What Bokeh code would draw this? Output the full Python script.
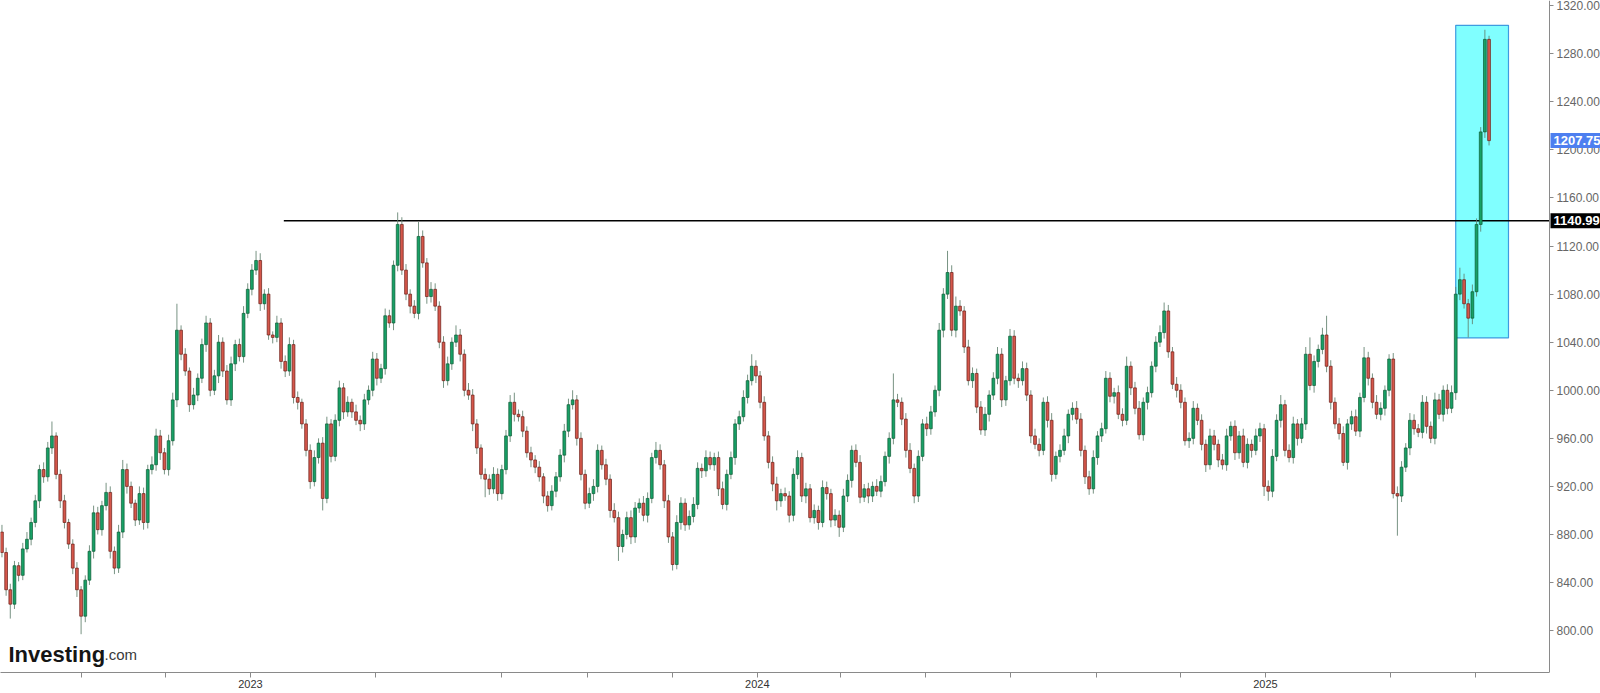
import pandas as pd
from bokeh.plotting import figure
from bokeh.models import Range1d, FixedTicker, NumeralTickFormatter, Label, ColumnDataSource
from bokeh.embed import file_html
from bokeh.resources import INLINE

FONT = "Liberation Sans"

# ---------------- data ----------------
first_candle = "2022-07-06"
step_days = 3
first_open = 882.0

closes = [
    865, 834, 822, 854, 846, 868, 876, 890, 908, 934,
    928, 952, 962, 930, 908, 890, 872, 852, 834, 812,
    842, 866, 898, 884, 904, 915, 866, 852, 882, 934,
    920, 906, 892, 914, 890, 934, 938, 962, 948, 934,
    958, 992, 1050, 1030, 1016, 988, 996, 1010, 1038, 1056,
    1000, 1012, 1040, 1016, 992, 1022, 1038, 1028, 1064, 1084,
    1100, 1108, 1072, 1080, 1046, 1044, 1056, 1024, 1016, 1038,
    994, 990, 972, 950, 924, 944, 956, 910, 972, 945,
    975, 1002, 982, 990, 982, 975, 972, 992, 1000, 1026,
    1010, 1018, 1062, 1056, 1104, 1138, 1100, 1080, 1070, 1064,
    1128, 1106, 1078, 1084, 1070, 1040, 1008, 1022, 1040, 1046,
    1030, 1000, 996, 972, 952, 930, 926, 918, 930, 914,
    934, 962, 990, 980, 978, 966, 948, 942, 936, 928,
    912, 904, 916, 928, 946, 966, 988, 992, 960, 930,
    906, 914, 920, 950, 938, 926, 900, 894, 870, 880,
    894, 878, 902, 906, 896, 910, 944, 950, 938, 908,
    878, 855, 890, 906, 888, 895, 905, 935, 933, 944,
    938, 944, 918, 905, 930, 944, 972, 978, 994, 1008,
    1020, 1012, 990, 962, 940, 922, 908, 914, 912, 896,
    930, 944, 912, 918, 894, 900, 890, 919, 914, 892,
    896, 886, 912, 925, 950, 940, 911, 918, 912, 920,
    916, 924, 945, 960, 992, 990, 976, 950, 935, 912,
    945, 972, 968, 982, 1000, 1050, 1080, 1098, 1050, 1070,
    1066, 1036, 1008, 1014, 986, 967, 980, 996, 1010, 1030,
    992, 1008, 1045, 1010, 1008, 1018, 996, 962, 955, 950,
    990, 975, 930, 945, 950, 962, 980, 985, 976, 950,
    928, 918, 944, 962, 968, 1010, 995, 998, 980, 975,
    1020, 1002, 985, 963, 990, 998, 1020, 1040, 1048, 1066,
    1032, 1005, 1000, 990, 958, 960, 985, 975, 955, 938,
    962, 955, 942, 938, 962, 970, 948, 962, 940, 955,
    950, 962, 968, 920, 916, 945, 975, 988, 950, 944,
    972, 960, 972, 1030, 1004, 1024, 1034, 1046, 1020, 990,
    972, 964, 940, 972, 978, 966, 994, 1027, 1010, 990,
    980, 985, 1000, 1026, 914, 912, 936, 952, 975, 968,
    965, 990, 970, 960, 992, 980, 1000, 985, 998, 1080,
    1092, 1072, 1060, 1082, 1138, 1215, 1292, 1207.75,
]

wick_hi = [
    6, 4, 5, 4, 3, 5, 6, 4, 5, 4, 6, 5, 12, 3, 4, 5, 3, 4, 5, 3,
    4, 5, 6, 5, 4, 8, 5, 4, 6, 8, 5, 4, 3, 6, 5, 4, 7, 6, 5, 4,
    5, 6, 22, 4, 5, 3, 6, 4, 5, 6, 4, 5, 6, 4, 5, 6, 4, 5, 6, 5,
    5, 8, 6, 4, 5, 3, 6, 4, 5, 6, 4, 5, 3, 4, 5, 6, 4, 5, 6, 4,
    5, 6, 4, 5, 3, 6, 4, 5, 4, 6, 5, 4, 6, 5, 4, 10, 6, 5, 4, 5,
    12, 5, 4, 6, 5, 4, 5, 6, 4, 8, 5, 4, 6, 5, 4, 3, 5, 4, 6, 5,
    4, 5, 6, 8, 4, 5, 4, 5, 4, 5, 3, 4, 5, 4, 5, 6, 5, 8, 4, 5,
    4, 5, 6, 5, 4, 5, 4, 6, 5, 4, 5, 6, 5, 4, 6, 5, 4, 7, 5, 4,
    5, 4, 6, 5, 4, 5, 6, 5, 4, 6, 5, 4, 5, 6, 4, 5, 4, 5, 6, 5,
    10, 5, 4, 5, 4, 5, 6, 4, 5, 4, 5, 6, 4, 5, 4, 5, 4, 6, 5, 4,
    5, 4, 6, 5, 4, 5, 6, 4, 5, 4, 6, 5, 4, 5, 22, 5, 4, 5, 6, 4,
    5, 4, 6, 5, 4, 6, 5, 18, 6, 8, 5, 4, 6, 5, 4, 5, 6, 4, 5, 6,
    5, 4, 6, 5, 4, 6, 5, 4, 6, 5, 4, 5, 6, 4, 5, 6, 4, 5, 6, 5,
    4, 5, 6, 4, 5, 6, 5, 4, 6, 5, 8, 4, 5, 6, 4, 5, 4, 5, 6, 7,
    5, 4, 6, 5, 4, 5, 6, 4, 5, 4, 6, 5, 4, 5, 6, 4, 5, 4, 6, 5,
    4, 6, 5, 4, 5, 6, 5, 8, 4, 5, 6, 4, 5, 6, 14, 5, 4, 6, 16, 5,
    4, 5, 6, 4, 5, 6, 4, 9, 5, 4, 6, 5, 4, 4, 5, 6, 5, 4, 6, 5,
    4, 6, 5, 4, 6, 5, 4, 5, 6, 6, 10, 5, 4, 6, 5, 4, 8, 3,
]

wick_lo = [
    4, 5, 12, 4, 5, 4, 3, 5, 4, 6, 5, 4, 5, 4, 6, 5, 4, 5, 6, 15,
    5, 4, 6, 4, 5, 4, 6, 5, 4, 5, 6, 4, 5, 4, 6, 5, 4, 5, 6, 4,
    5, 4, 6, 5, 4, 6, 4, 5, 4, 6, 5, 4, 6, 5, 4, 5, 6, 4, 5, 4,
    5, 4, 6, 5, 4, 5, 4, 6, 5, 4, 5, 6, 4, 5, 6, 4, 5, 10, 4, 5,
    4, 5, 6, 4, 5, 4, 6, 5, 4, 5, 6, 4, 5, 4, 6, 5, 4, 5, 6, 4,
    5, 4, 6, 5, 4, 5, 6, 4, 5, 4, 6, 5, 4, 6, 5, 4, 15, 5, 4, 6,
    5, 4, 5, 6, 4, 5, 4, 6, 5, 4, 6, 5, 4, 5, 4, 6, 5, 4, 6, 5,
    5, 4, 6, 5, 4, 5, 6, 4, 12, 5, 4, 6, 5, 4, 5, 6, 4, 5, 4, 6,
    5, 5, 4, 6, 5, 4, 5, 4, 6, 5, 4, 5, 6, 4, 5, 4, 6, 5, 4, 5,
    4, 6, 5, 4, 5, 6, 8, 5, 4, 6, 5, 4, 5, 6, 4, 5, 6, 4, 5, 6,
    5, 8, 4, 5, 6, 4, 5, 4, 6, 5, 4, 5, 4, 6, 5, 4, 5, 6, 4, 6,
    5, 4, 6, 5, 4, 5, 6, 4, 5, 6, 4, 5, 4, 6, 5, 4, 5, 6, 4, 5,
    6, 5, 4, 5, 6, 4, 5, 6, 4, 5, 4, 6, 6, 4, 5, 4, 6, 5, 4, 5,
    6, 5, 4, 6, 5, 4, 5, 6, 4, 5, 4, 6, 5, 4, 5, 6, 4, 5, 4, 5,
    5, 4, 6, 5, 4, 6, 5, 4, 5, 6, 4, 5, 6, 4, 5, 4, 6, 5, 4, 5,
    6, 4, 5, 8, 8, 5, 4, 6, 5, 4, 5, 6, 4, 5, 4, 6, 5, 4, 5, 6,
    4, 5, 3, 6, 5, 4, 5, 4, 6, 5, 4, 5, 6, 5, 4, 33, 5, 4, 6, 5,
    4, 5, 6, 4, 5, 4, 6, 5, 4, 6, 5, 4, 16, 5, 4, 6, 5, 4,
]

y_ticks = [800, 840, 880, 920, 960, 1000, 1040, 1080, 1120, 1160, 1200, 1240, 1280, 1320]
x_tick_dates = ["2022-07-01", "2022-09-01", "2022-11-01", "2023-01-01", "2023-04-01",
                "2023-07-01", "2023-09-01", "2023-11-01", "2024-01-01", "2024-03-01",
                "2024-05-01", "2024-07-01", "2024-09-01", "2024-11-01", "2025-01-01",
                "2025-04-01", "2025-06-01"]
x_tick_labels = ["", "", "", "2023", "", "", "", "", "2024", "", "", "", "", "", "2025", "", ""]

resistance_level = 1140.99
resistance_from = "2023-01-25"
last_price = 1207.75
zone_dates = ["2025-05-18", "2025-06-25"]
zone_prices = [1043.6, 1303.7]

# ---------------- derived ----------------
base = pd.Timestamp("2023-01-01")


def day(d):
    return (pd.Timestamp(d) - base).days


n = len(closes)
x0 = day(first_candle)
xs = [x0 + step_days * i for i in range(n)]
opens = [first_open] + closes[:-1]
highs = [max(o, c) + w for o, c, w in zip(opens, closes, wick_hi)]
lows = [min(o, c) - w for o, c, w in zip(opens, closes, wick_lo)]
up = [c >= o for o, c in zip(opens, closes)]

INC_FILL, INC_LINE = "#18a066", "#0b5a33"
DEC_FILL, DEC_LINE = "#d5574b", "#6a1d15"

src = ColumnDataSource(dict(
    x=xs, top=[max(o, c) for o, c in zip(opens, closes)],
    bottom=[min(o, c) for o, c in zip(opens, closes)],
    high=highs, low=lows,
    fill=[INC_FILL if u else DEC_FILL for u in up],
    line=[INC_LINE if u else DEC_LINE for u in up],
))

# view window (page x 0..1600, y 0..672)
X_START, X_END = -180.05, 972.27
X_AXIS = 935.54          # where the price axis sits (page x ~1549)
Y_START, Y_END = 765.14, 1324.35

p = figure(width=1600, frame_height=672,
           x_range=Range1d(X_START, X_END), y_range=Range1d(Y_START, Y_END),
           output_backend="svg", toolbar_location=None, y_axis_location="right",
           min_border=0, outline_line_color=None, background_fill_color="white",
           border_fill_color="white")
p.xgrid.visible = False
p.ygrid.visible = False

# highlight zone
p.quad(left=[day(zone_dates[0])], right=[day(zone_dates[1])],
       bottom=[zone_prices[0]], top=[zone_prices[1]],
       fill_color="#80ffff", fill_alpha=1.0, line_color="#3f9be0", line_width=1.2)

# resistance line
p.segment(x0=[day(resistance_from)], x1=[X_AXIS], y0=[resistance_level], y1=[resistance_level],
          line_color="black", line_width=1.5)

# candles
p.segment(x0="x", x1="x", y0="high", y1="low", source=src, line_color="#60806d",
          line_alpha=0.85, line_width=1)
p.vbar(x="x", width=2.0, top="top", bottom="bottom", source=src,
       fill_color="fill", line_color="line", line_width=0.7)

# axes
ax = p.xaxis[0]
ax.ticker = FixedTicker(ticks=[day(d) for d in x_tick_dates])
ax.major_label_overrides = {day(d): lab for d, lab in zip(x_tick_dates, x_tick_labels)}
ax.bounds = (X_START, X_AXIS)
ax.minor_tick_line_color = None
ax.major_tick_in = 0
ax.major_tick_out = 5
ax.axis_line_color = "#8a8a8a"
ax.major_tick_line_color = "#8a8a8a"
ax.major_label_text_color = "#333333"
ax.major_label_text_font = FONT
ax.major_label_text_font_size = "11px"
ax.major_label_standoff = 2

ay = p.yaxis[0]
ay.fixed_location = X_AXIS
ay.ticker = FixedTicker(ticks=y_ticks)
ay.formatter = NumeralTickFormatter(format="0.00")
ay.minor_tick_line_color = None
ay.major_tick_in = 0
ay.major_tick_out = 4
ay.axis_line_color = "#8a8a8a"
ay.major_tick_line_color = "#8a8a8a"
ay.major_label_text_color = "#666666"
ay.major_label_text_font = FONT
ay.major_label_text_font_size = "12px"
ay.major_label_standoff = 3

# price tags
p.add_layout(Label(x=X_AXIS, y=last_price, x_offset=1, text=f"{last_price:.2f}",
                   text_color="white", text_font=FONT, text_font_size="13px",
                   text_font_style="bold", text_baseline="middle", text_align="left",
                   background_fill_color="#4d7ff0", padding=3))
p.add_layout(Label(x=X_AXIS, y=resistance_level, x_offset=1, text=f"{resistance_level:.2f}",
                   text_color="white", text_font=FONT, text_font_size="13px",
                   text_font_style="bold", text_baseline="middle", text_align="left",
                   background_fill_color="black", padding=3))

# logo
p.add_layout(Label(x=X_START, y=780.1, x_offset=8, text="Investing", text_color="#151515",
                   text_font=FONT, text_font_size="22px", text_font_style="bold",
                   text_baseline="alphabetic"))
p.add_layout(Label(x=X_START, y=780.1, x_offset=104, text=".com", text_color="#3a3a3a",
                   text_font=FONT, text_font_size="15px", text_baseline="alphabetic"))

open("out.html", "w").write(file_html(p, INLINE))
